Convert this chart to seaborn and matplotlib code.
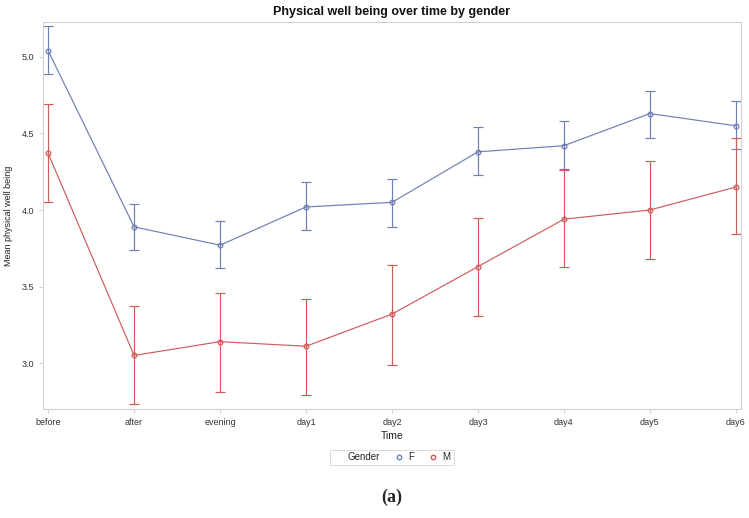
import pandas as pd
import matplotlib.pyplot as plt
import seaborn as sns
from matplotlib.lines import Line2D

# Values
times = ["before", "after", "evening", "day1", "day2", "day3", "day4", "day5", "day6"]
f_mean = [5.04, 3.89, 3.77, 4.02, 4.05, 4.38, 4.42, 4.63, 4.55]
f_low = [4.89, 3.74, 3.62, 3.87, 3.89, 4.23, 4.27, 4.47, 4.40]
f_high = [5.20, 4.04, 3.93, 4.18, 4.20, 4.54, 4.58, 4.78, 4.71]
m_mean = [4.37, 3.05, 3.14, 3.11, 3.32, 3.63, 3.94, 4.00, 4.15]
m_low = [4.05, 2.73, 2.81, 2.79, 2.99, 3.31, 3.63, 3.68, 3.84]
m_high = [4.69, 3.37, 3.46, 3.42, 3.64, 3.95, 4.26, 4.32, 4.47]

colors = {"F": "#6F7EB3", "M": "#D05B5B"}

df = pd.DataFrame({
    "Time": times * 2,
    "Gender": ["F"] * len(times) + ["M"] * len(times),
    "mean": f_mean + m_mean,
    "low": f_low + m_low,
    "high": f_high + m_high,
})
df["x"] = df["Time"].map({t: i for i, t in enumerate(times)})

sns.set_style("white")
plt.rcParams["font.family"] = ["Liberation Sans", "DejaVu Sans"]

fig = plt.figure(figsize=(7.49, 5.18), dpi=100)
ax = fig.add_axes([0.0574, 0.2104, 0.9319, 0.7471])

sns.lineplot(data=df, x="x", y="mean", hue="Gender", palette=colors,
             marker="o", markersize=3.4, markerfacecolor="none", markeredgewidth=0.9,
             linewidth=0.85, legend=False, ax=ax)
for g, sub in df.groupby("Gender"):
    ax.errorbar(sub["x"], sub["mean"],
                yerr=[sub["mean"] - sub["low"], sub["high"] - sub["mean"]],
                fmt="none", ecolor=colors[g], elinewidth=0.85, capsize=3.5, capthick=0.85)
# hollow circles keep the series colour on their edge
for line, g in zip(ax.lines[:2], ["F", "M"]):
    line.set_markeredgecolor(colors[g])

ax.set_xlim(-0.06, 8.06)
ax.set_ylim(2.70, 5.228)
ax.set_xticks(range(len(times)))
ax.set_xticklabels(times)
ax.set_yticks([3.0, 3.5, 4.0, 4.5, 5.0])
ax.set_yticklabels(["3.0", "3.5", "4.0", "4.5", "5.0"])
ax.tick_params(axis="both", labelsize=6.5, colors="#c8c8c8", labelcolor="#333333",
               length=3, width=0.6, direction="out", bottom=True, left=True)
for s in ax.spines.values():
    s.set_color("#d0d0d0")
    s.set_linewidth(0.8)

ax.set_xlabel("Time", fontsize=7.5, color="#222222", labelpad=3)
ax.set_ylabel("Mean physical well being", fontsize=6.5, color="#222222", labelpad=6)
ax.set_title("Physical well being over time by gender", fontsize=9, fontweight="bold",
             color="#111111", pad=5)

handles = [Line2D([], [], linestyle="none"),
           Line2D([], [], linestyle="none", marker="o", markersize=3.2,
                  markerfacecolor="none", markeredgecolor=colors["F"]),
           Line2D([], [], linestyle="none", marker="o", markersize=3.2,
                  markerfacecolor="none", markeredgecolor=colors["M"])]
leg = fig.legend(handles, ["Gender", "F", "M"], loc="center", ncol=3,
                 bbox_to_anchor=(392 / 749, 1 - 457.5 / 518), fontsize=7,
                 frameon=True, fancybox=False, handlelength=1.0, handletextpad=0.5,
                 columnspacing=1.4, borderpad=0.3)
leg.get_frame().set_edgecolor("#d0d0d0")
leg.get_frame().set_linewidth(0.7)

fig.text(392 / 749, 1 - 497 / 518, "(a)", ha="center", va="center", fontsize=13,
         fontweight="bold", family=["Liberation Serif", "DejaVu Serif"])

fig.savefig("out.png", dpi=100)
